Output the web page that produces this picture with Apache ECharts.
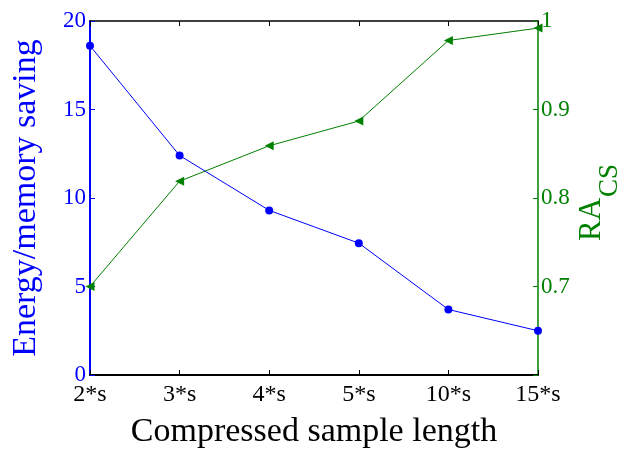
<!DOCTYPE html>
<html>
<head>
<meta charset="utf-8">
<script src="https://cdn.jsdelivr.net/npm/echarts@6/dist/echarts.min.js"></script>
<style>html,body{margin:0;padding:0;background:#fff;}#c{width:623px;height:454px;}</style>
</head>
<body>
<div id="c"></div>
<script>
var categories = ['2*s', '3*s', '4*s', '5*s', '10*s', '15*s'];
var savingValues = [18.6, 12.4, 9.3, 7.45, 3.7, 2.5];
var racsValues = [0.700, 0.819, 0.859, 0.887, 0.978, 0.992];
var leftTicks = [0, 5, 10, 15, 20];
var rightTicks = [0.6, 0.7, 0.8, 0.9, 1.0];

var FONT = '"Liberation Serif", "Times New Roman", serif';
var BLUE = '#0000ff', GREEN = '#008000';

var chart = echarts.init(document.getElementById('c'));
chart.setOption({
  animation: false,
  backgroundColor: '#ffffff',
  grid: { left: 90, right: 85, top: 21, bottom: 79, containLabel: false, outerBoundsMode: 'none' },
  xAxis: [{
    type: 'category', data: categories, boundaryGap: false,
    name: 'Compressed sample length', nameLocation: 'middle', nameGap: 40,
    nameTextStyle: { fontFamily: FONT, fontSize: 34, color: '#000' },
    axisLine: { lineStyle: { color: '#000', width: 2 } },
    axisTick: { inside: true, length: 5, lineStyle: { color: '#000', width: 1 } },
    axisLabel: { fontFamily: FONT, fontSize: 24, color: '#000', margin: 8 },
    splitLine: { show: false }
  }, {
    type: 'category', data: categories, boundaryGap: false, position: 'top',
    axisLine: { lineStyle: { color: '#000', width: 1.5 } },
    axisTick: { inside: true, length: 5, lineStyle: { color: '#000', width: 1 } },
    axisLabel: { show: false }, splitLine: { show: false }
  }],
  yAxis: [{
    type: 'value', min: leftTicks[0], max: leftTicks[leftTicks.length - 1], interval: 5,
    name: 'Energy/memory saving', nameLocation: 'middle', nameGap: 47, nameRotate: 90,
    nameTextStyle: { fontFamily: FONT, fontSize: 34, color: BLUE },
    axisLine: { show: true, lineStyle: { color: BLUE, width: 2 } },
    axisTick: { show: true, inside: true, length: 5, lineStyle: { color: BLUE, width: 1 } },
    axisLabel: { fontFamily: FONT, fontSize: 23, color: BLUE, margin: 4 },
    splitLine: { show: false }
  }, {
    type: 'value', min: rightTicks[0], max: rightTicks[rightTicks.length - 1], interval: 0.1,
    position: 'right',
    axisLine: { show: true, lineStyle: { color: GREEN, width: 1.5 } },
    axisTick: { show: true, inside: true, length: 5, lineStyle: { color: GREEN, width: 1 } },
    axisLabel: {
      fontFamily: FONT, fontSize: 23, color: GREEN, margin: 3,
      formatter: function (v) { return Math.abs(v - 0.6) < 1e-6 ? '' : String(Math.round(v * 10) / 10); }
    },
    splitLine: { show: false }
  }],
  graphic: [{
    type: 'group', x: 592, y: 241, rotation: Math.PI / 2,
    children: [
      { type: 'text', x: 0, y: 0, style: { text: 'RA', font: '31px ' + FONT, fill: GREEN, align: 'left', verticalAlign: 'middle' } },
      { type: 'text', x: 44, y: 18, style: { text: 'CS', font: '27px ' + FONT, fill: GREEN, align: 'left', verticalAlign: 'middle' } }
    ]
  }],
  series: [{
    type: 'line', xAxisIndex: 0, yAxisIndex: 0, data: savingValues,
    symbol: 'circle', symbolSize: 8,
    lineStyle: { color: BLUE, width: 1 }, itemStyle: { color: BLUE }
  }, {
    type: 'line', xAxisIndex: 0, yAxisIndex: 1, data: racsValues,
    symbol: 'triangle', symbolSize: 9, symbolRotate: 90,
    lineStyle: { color: GREEN, width: 1 }, itemStyle: { color: GREEN }
  }]
});
</script>
</body>
</html>
